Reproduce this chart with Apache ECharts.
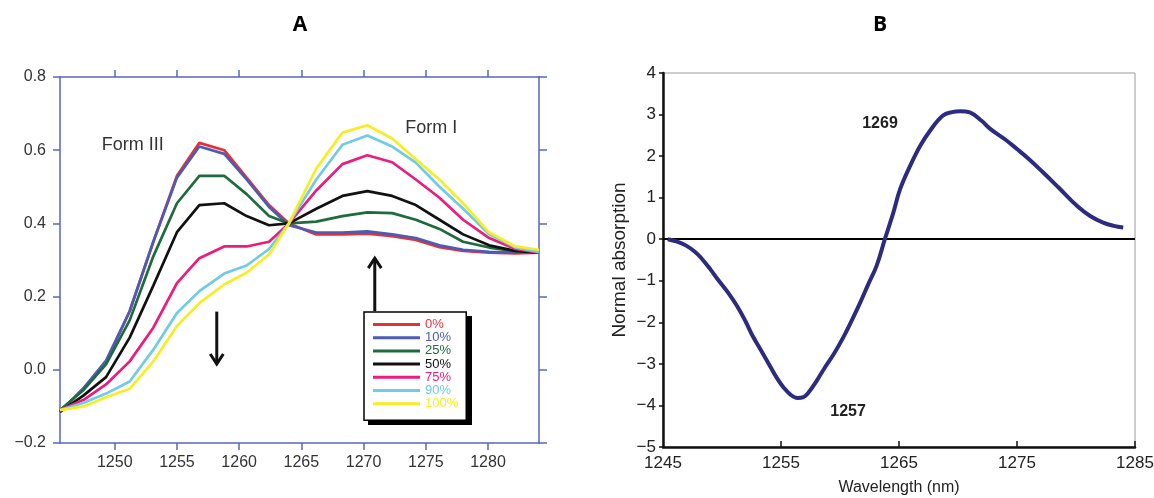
<!DOCTYPE html>
<html><head><meta charset="utf-8">
<script src="https://cdn.jsdelivr.net/npm/echarts@6/dist/echarts.min.js"></script>
<style>html,body{margin:0;padding:0;background:#fff}#c{width:1154px;height:498px}</style>
</head><body><div id="c"></div>
<script>
// ---------- Panel A data ----------
const xA = [1245.6, 1247.5, 1249.3, 1251.2, 1253.1, 1255.0, 1256.8, 1258.8, 1260.6, 1262.4, 1264.0, 1266.2, 1268.3, 1270.3, 1272.3, 1274.2, 1276.1, 1278.0, 1280.1, 1282.2, 1284.1];
const p0   = [-0.115, -0.05, 0.02, 0.16, 0.35, 0.53, 0.62, 0.60, 0.525, 0.45, 0.40, 0.37, 0.37, 0.372, 0.365, 0.355, 0.335, 0.325, 0.32, 0.318, 0.32];
const p10  = [-0.115, -0.05, 0.025, 0.16, 0.35, 0.525, 0.61, 0.59, 0.52, 0.445, 0.395, 0.375, 0.375, 0.378, 0.37, 0.36, 0.34, 0.328, 0.322, 0.32, 0.32];
const p25  = [-0.11, -0.055, 0.015, 0.135, 0.31, 0.455, 0.53, 0.53, 0.48, 0.42, 0.40, 0.405, 0.42, 0.43, 0.428, 0.41, 0.385, 0.35, 0.334, 0.324, 0.32];
const p50  = [-0.115, -0.07, -0.02, 0.088, 0.23, 0.376, 0.45, 0.455, 0.42, 0.395, 0.40, 0.44, 0.475, 0.488, 0.475, 0.45, 0.41, 0.37, 0.34, 0.325, 0.32];
const p75  = [-0.11, -0.082, -0.04, 0.023, 0.115, 0.237, 0.305, 0.337, 0.337, 0.35, 0.40, 0.49, 0.562, 0.586, 0.567, 0.52, 0.47, 0.41, 0.36, 0.33, 0.32];
const p90  = [-0.11, -0.09, -0.065, -0.032, 0.055, 0.155, 0.215, 0.263, 0.285, 0.33, 0.40, 0.52, 0.615, 0.64, 0.61, 0.566, 0.50, 0.44, 0.37, 0.334, 0.322];
const p100 = [-0.11, -0.10, -0.075, -0.052, 0.023, 0.12, 0.182, 0.233, 0.265, 0.315, 0.40, 0.55, 0.648, 0.668, 0.632, 0.575, 0.52, 0.455, 0.375, 0.337, 0.328];
const namesA = ['0%', '10%', '25%', '50%', '75%', '90%', '100%'];
const valuesA = [p0, p10, p25, p50, p75, p90, p100];
const colorsA = ['#e5303a', '#4a5cb6', '#1e6b3c', '#111111', '#ec1c7c', '#6fcbe6', '#f6ee22'];
const xTicksA = [1250, 1255, 1260, 1265, 1270, 1275, 1280];

// ---------- Panel B data ----------
const xB = [1245.4, 1246.2, 1247.0, 1247.7, 1248.2, 1249.0, 1249.6, 1250.5, 1251.3, 1252.0, 1252.6, 1253.4, 1254.1, 1254.7, 1255.2, 1255.8, 1256.4, 1256.9, 1257.3, 1258.0, 1258.6, 1259.5, 1260.3, 1261.0, 1261.7, 1262.4, 1263.1, 1263.8, 1264.5, 1265.1, 1266.0, 1266.8, 1267.6, 1268.7, 1269.5, 1270.2, 1271.0, 1272.0, 1272.7, 1274.0, 1275.0, 1276.0, 1277.2, 1278.5, 1280.1, 1281.2, 1282.3, 1283.2, 1284.0];
const yB = [0.0, -0.06, -0.16, -0.3, -0.44, -0.72, -0.95, -1.28, -1.62, -1.98, -2.33, -2.72, -3.07, -3.36, -3.56, -3.74, -3.82, -3.8, -3.7, -3.42, -3.14, -2.75, -2.35, -1.95, -1.53, -1.08, -0.64, 0.0, 0.62, 1.21, 1.8, 2.25, 2.6, 2.97, 3.06, 3.08, 3.05, 2.85, 2.66, 2.4, 2.17, 1.93, 1.61, 1.25, 0.8, 0.56, 0.4, 0.32, 0.28];
const xTicksB = [1245, 1255, 1265, 1275, 1285];
const xTickMarksB = [1255, 1265, 1275, 1285];

const axisBlue = '#5865bd';
const fontA = 'Liberation Sans, Arial, sans-serif';
const fontB = '"Liberation Sans", Arial, sans-serif';
const minusFmt = d => v => (v < 0 ? '\u2212' : '') + Math.abs(v).toFixed(d);
const plainFmt = v => String(Math.round(v));

const chart = echarts.init(document.getElementById('c'), null, {renderer: 'canvas'});

const seriesA = namesA.map((n, k) => ({
  name: n, type: 'line', xAxisIndex: 0, yAxisIndex: 0,
  data: xA.map((x, i) => [x, valuesA[k][i]]),
  symbol: 'none', color: colorsA[k],
  lineStyle: {width: 2.7, color: colorsA[k]}, z: 2 + k
}));

const option = {
  animation: false,
  backgroundColor: '#fff',
  grid: [
    {left: 60, top: 77, width: 479, height: 366, show: false, outerBoundsMode: 'none', containLabel: false},
    {left: 663, top: 73, width: 472, height: 374, show: true, borderColor: '#9a9a9a', borderWidth: 1, backgroundColor: 'transparent', outerBoundsMode: 'none', containLabel: false}
  ],
  legend: {
    data: namesA.map((n, k) => ({name: n, textStyle: {color: colorsA[k]}})),
    orient: 'vertical', left: 364, top: 312,
    padding: [6, 8, 10, 9], itemWidth: 47, itemHeight: 3, itemGap: 0.2,
    icon: 'rect', selectedMode: false,
    backgroundColor: '#fff', borderColor: '#000', borderWidth: 1.5,
    textStyle: {fontFamily: fontA, fontSize: 13},
    z: 10
  },
  xAxis: [
    {type: 'value', gridIndex: 0, min: 1245.6, max: 1284.1, position: 'bottom',
     axisLine: {show: true, onZero: false, lineStyle: {color: axisBlue, width: 1.5}},
     axisTick: {show: true, inside: false, length: 7, customValues: xTicksA, lineStyle: {color: axisBlue, width: 1.5}},
     axisLabel: {customValues: xTicksA, formatter: plainFmt, margin: 12, color: '#333', fontSize: 16, fontFamily: fontA},
     splitLine: {show: false}},
    {type: 'value', gridIndex: 0, min: 1245.6, max: 1284.1, position: 'top',
     axisLine: {show: true, onZero: false, lineStyle: {color: axisBlue, width: 1.5}},
     axisTick: {show: true, inside: false, length: 7, customValues: xTicksA, lineStyle: {color: axisBlue, width: 1.5}},
     axisLabel: {show: false}, splitLine: {show: false}},
    {type: 'value', gridIndex: 1, min: 1245, max: 1285, position: 'bottom',
     axisLine: {show: true, onZero: false, lineStyle: {color: '#111', width: 2.5}},
     axisTick: {show: true, inside: true, length: 6, customValues: xTickMarksB, lineStyle: {color: '#111', width: 1.5}},
     axisLabel: {customValues: xTicksB, formatter: plainFmt, margin: 8, color: '#222', fontSize: 17, fontFamily: fontB},
     splitLine: {show: false},
     name: 'Wavelength (nm)', nameLocation: 'middle', nameGap: 33,
     nameTextStyle: {color: '#222', fontSize: 16, fontFamily: fontB}}
  ],
  yAxis: [
    {type: 'value', gridIndex: 0, min: -0.2, max: 0.8, interval: 0.2, position: 'left',
     axisLine: {show: true, onZero: false, lineStyle: {color: axisBlue, width: 1.5}},
     axisTick: {show: true, inside: false, length: 7, lineStyle: {color: axisBlue, width: 1.5}},
     axisLabel: {formatter: minusFmt(1), margin: 14, color: '#333', fontSize: 16, fontFamily: fontA},
     splitLine: {show: false}},
    {type: 'value', gridIndex: 0, min: -0.2, max: 0.8, interval: 0.2, position: 'right',
     axisLine: {show: true, onZero: false, lineStyle: {color: axisBlue, width: 1.5}},
     axisTick: {show: true, inside: false, length: 8, lineStyle: {color: axisBlue, width: 1.5}},
     axisLabel: {show: false}, splitLine: {show: false}},
    {type: 'value', gridIndex: 1, min: -5, max: 4, interval: 1, position: 'left',
     axisLine: {show: true, onZero: false, lineStyle: {color: '#111', width: 2.5}},
     axisTick: {show: true, inside: false, length: 4, lineStyle: {color: '#111', width: 1.5}},
     axisLabel: {formatter: minusFmt(0), margin: 7, color: '#222', fontSize: 17, fontFamily: fontB},
     splitLine: {show: false},
     name: 'Normal absorption', nameLocation: 'middle', nameGap: 34, nameRotate: 90,
     nameTextStyle: {color: '#222', fontSize: 19, fontFamily: fontB}}
  ],
  series: seriesA.concat([{
    name: 'B', type: 'line', xAxisIndex: 2, yAxisIndex: 2,
    data: xB.map((x, i) => [x, yB[i]]), smooth: 0.4, symbol: 'none',
    color: '#2b2c80', lineStyle: {width: 4, color: '#2b2c80'}, z: 5,
    markLine: {silent: true, symbol: 'none', label: {show: false},
      lineStyle: {color: '#000', width: 1.8, type: 'solid', opacity: 1}, data: [{yAxis: 0}]}
  }])
};
chart.setOption(option);

// annotations placed in data coordinates
const pA = (x, y) => chart.convertToPixel({xAxisIndex: 0, yAxisIndex: 0}, [x, y]);
const pB = (x, y) => chart.convertToPixel({xAxisIndex: 2, yAxisIndex: 2}, [x, y]);

function arrow(tail, tip, up) {
  const d = up ? 1 : -1;
  return [
    {type: 'line', shape: {x1: tail[0], y1: tail[1], x2: tip[0], y2: tip[1]}, style: {stroke: '#111', lineWidth: 3}, z: 20},
    {type: 'polyline', shape: {points: [[tip[0] - 6.5, tip[1] + d * 10], [tip[0], tip[1]], [tip[0] + 6.5, tip[1] + d * 10]]},
     style: {stroke: '#111', lineWidth: 3, fill: null, lineJoin: 'miter'}, z: 20}
  ];
}

const dnTail = pA(1258.2, 0.159), dnTip = pA(1258.2, 0.016);
const upTail = pA(1270.9, 0.16), upTip = pA(1270.9, 0.305);
const f3 = pA(1251.44, 0.614), f1 = pA(1275.44, 0.66);
const b69 = pB(1263.39, 2.78), b57 = pB(1260.68, -4.15);

const graphics = [
  {type: 'text', x: 300, y: 25, style: {text: 'A', font: 'bold 21px "Open Sans", sans-serif', fill: '#000', align: 'center', verticalAlign: 'middle'}},
  {type: 'text', x: 880, y: 25, style: {text: 'B', font: 'bold 21px "Open Sans", sans-serif', fill: '#000', align: 'center', verticalAlign: 'middle'}},
  {type: 'text', x: f3[0], y: f3[1], style: {text: 'Form III', font: '18px ' + fontA, fill: '#333', align: 'center', verticalAlign: 'middle'}},
  {type: 'text', x: f1[0], y: f1[1], style: {text: 'Form I', font: '18px ' + fontA, fill: '#333', align: 'center', verticalAlign: 'middle'}},
  {type: 'text', x: b69[0], y: b69[1], style: {text: '1269', font: 'bold 16px ' + fontB, fill: '#222', align: 'center', verticalAlign: 'middle'}},
  {type: 'text', x: b57[0], y: b57[1], style: {text: '1257', font: 'bold 16px ' + fontB, fill: '#222', align: 'center', verticalAlign: 'middle'}},
  // legend drop shadow
  {type: 'rect', shape: {x: 368, y: 316, width: 104, height: 109}, style: {fill: '#000'}, z: 1}
].concat(arrow(dnTail, dnTip, false), arrow(upTail, upTip, true));

chart.setOption({graphic: graphics});
</script>
</body></html>
